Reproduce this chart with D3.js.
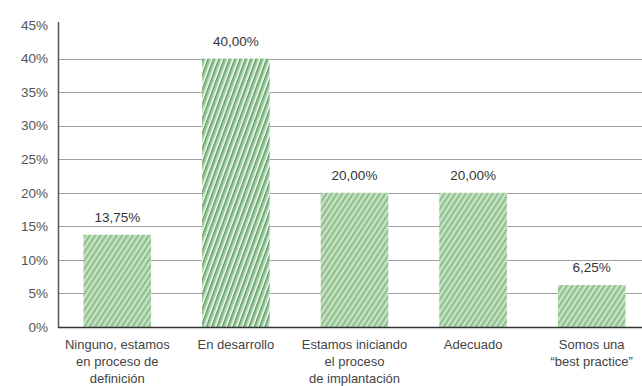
<!DOCTYPE html>
<html>
<head>
<meta charset="utf-8">
<script src="https://cdn.jsdelivr.net/npm/d3@7"></script>
<style>
  body { margin: 0; background: #fff; }
  text { font-family: "Liberation Sans Narrow", "Liberation Sans", sans-serif; }
</style>
</head>
<body>
<svg id="chart" width="642" height="386"></svg>
<script>
// categories and values
var categories = [
  "Ninguno, estamos|en proceso de|definición",
  "En desarrollo",
  "Estamos iniciando|el proceso|de implantación",
  "Adecuado",
  "Somos una|“best practice”"
];
var values = [13.75, 40, 20, 20, 6.25];
var valueLabels = ["13,75%", "40,00%", "20,00%", "20,00%", "6,25%"];
var yTicks = [0, 5, 10, 15, 20, 25, 30, 35, 40, 45];
var darkIndex = 1; // the tall bar is drawn darker

var svg = d3.select("#chart");
var mLeft = 58, mRight = 642, mTop = 22, mBottom = 327;

var x = d3.scaleBand()
  .domain(d3.range(categories.length))
  .range([mLeft, 651])
  .paddingInner(0.43)
  .paddingOuter(0.215);

var y = d3.scaleLinear().domain([0, 45]).range([mBottom, mTop + 3]);

// hatch patterns (sketchy diagonal strokes, rising to the right)
var defs = svg.append("defs");
function hatch(id, angle, w, strokes) {
  var p = defs.append("pattern")
    .attr("id", id)
    .attr("patternUnits", "userSpaceOnUse")
    .attr("width", w).attr("height", 10)
    .attr("patternTransform", "rotate(" + angle + ")");
  p.append("rect").attr("width", w).attr("height", 10).attr("fill", "#fff");
  strokes.forEach(function(s) {
    p.append("line").attr("x1", s[0]).attr("x2", s[0]).attr("y1", 0).attr("y2", 10)
      .attr("stroke", s[1]).attr("stroke-width", s[2]);
  });
}
hatch("hLight", 33, 4.5, [[0.9, "#7fb87e", 1.6], [2.6, "#9ccb99", 1.2], [4.0, "#b7d9b4", 0.7]]);
hatch("hDark", 20, 5, [[0.9, "#3d9446", 1.5], [2.9, "#6aa96c", 1.0]]);

// gridlines
svg.append("g").selectAll("line")
  .data(yTicks.filter(function(d) { return d > 0 && d < 45; }))
  .enter().append("line")
  .attr("x1", mLeft).attr("x2", mRight)
  .attr("y1", function(d) { return Math.round(y(d)) + 0.5; })
  .attr("y2", function(d) { return Math.round(y(d)) + 0.5; })
  .attr("stroke", "#a0a0a0").attr("stroke-width", 1);

// bars
svg.append("g").selectAll("rect")
  .data(values)
  .enter().append("rect")
  .attr("x", function(d, i) { return x(i); })
  .attr("width", x.bandwidth())
  .attr("y", function(d) { return y(d); })
  .attr("height", function(d) { return mBottom - y(d); })
  .attr("fill", function(d, i) { return i === darkIndex ? "url(#hDark)" : "url(#hLight)"; });

// value labels
svg.append("g").selectAll("text")
  .data(values)
  .enter().append("text")
  .attr("x", function(d, i) { return x(i) + x.bandwidth() / 2; })
  .attr("y", function(d) { return y(d) - 13; })
  .attr("text-anchor", "middle")
  .attr("font-size", 13.5)
  .attr("fill", "#333")
  .text(function(d, i) { return valueLabels[i]; });

// y axis
var yAxis = d3.axisLeft(y).tickValues(yTicks).tickSize(0).tickPadding(10)
  .tickFormat(function(d) { return d + "%"; });
var gy = svg.append("g").attr("transform", "translate(" + mLeft + ",0)").call(yAxis);
gy.select(".domain").remove();
gy.selectAll("text").attr("font-size", 13.5).attr("fill", "#555")
  .style("font-family", "'Liberation Sans Narrow', 'Liberation Sans', sans-serif");

svg.append("line")
  .attr("x1", mLeft + 0.5).attr("x2", mLeft + 0.5)
  .attr("y1", mTop).attr("y2", mBottom + 1)
  .attr("stroke", "#555").attr("stroke-width", 1.5);
svg.append("line")
  .attr("x1", mLeft).attr("x2", mRight)
  .attr("y1", mBottom + 0.5).attr("y2", mBottom + 0.5)
  .attr("stroke", "#333").attr("stroke-width", 1.5);

// category labels
var cat = svg.append("g").selectAll("text")
  .data(categories)
  .enter().append("text")
  .attr("x", function(d, i) { return x(i) + x.bandwidth() / 2; })
  .attr("y", 349)
  .attr("text-anchor", "middle")
  .attr("font-size", 13)
  .attr("fill", "#444");
cat.selectAll("tspan")
  .data(function(d) { return d.split("|"); })
  .enter().append("tspan")
  .attr("x", function() { return d3.select(this.parentNode).attr("x"); })
  .attr("dy", function(d, i) { return i === 0 ? 0 : 17; })
  .text(function(d) { return d; });
</script>
</body>
</html>
